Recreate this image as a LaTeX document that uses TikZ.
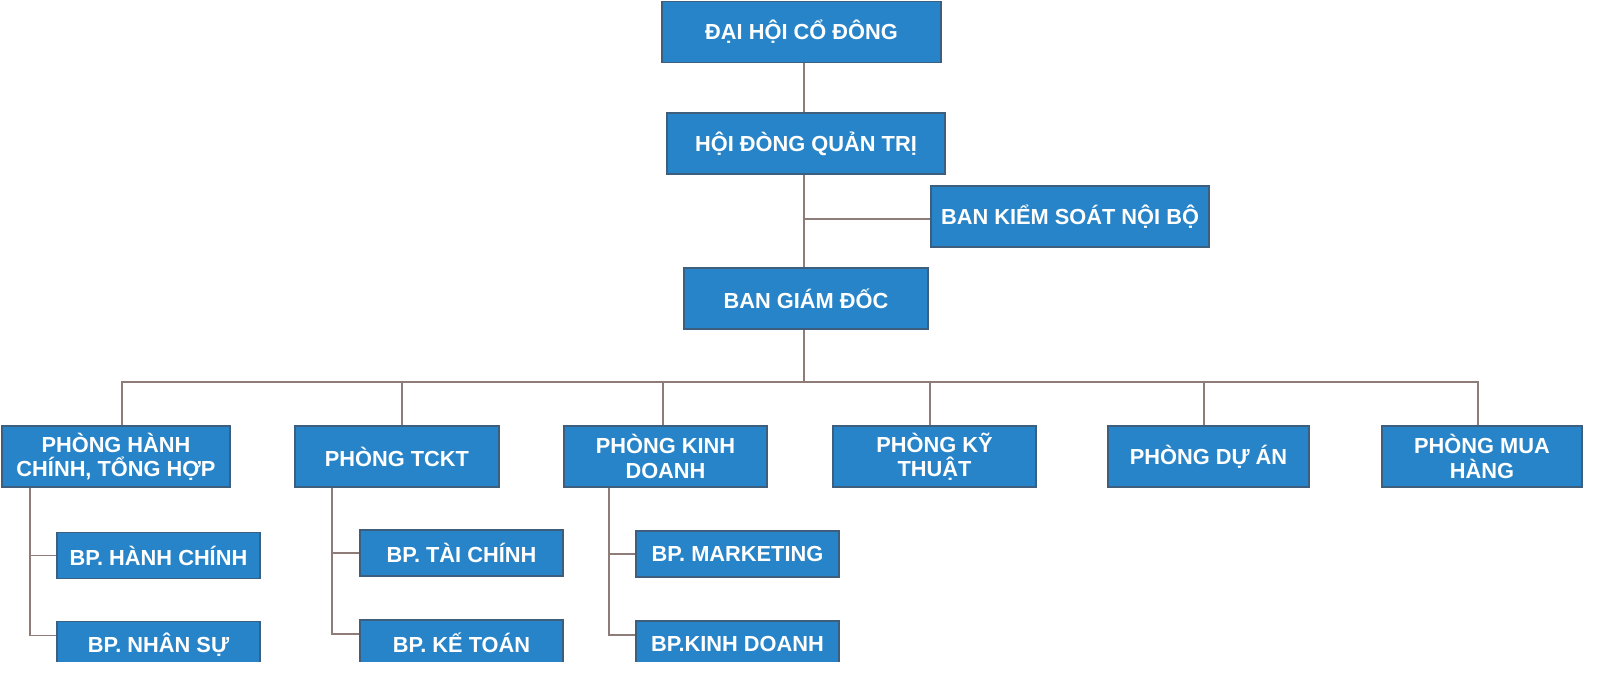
\documentclass[tikz,border=0pt]{standalone}
\usepackage{fontspec}
\setmainfont{Liberation Sans}
\definecolor{boxblue}{HTML}{2884C8}
\definecolor{boxedge}{HTML}{3E5E7E}
\definecolor{linec}{HTML}{8E7C79}
\tikzset{
  box/.style={draw=boxedge, line width=0.6pt, fill=boxblue, text=white,
    font=\fontsize{10.9}{12.2}\selectfont\bfseries, align=center, inner sep=0pt},
  topbox/.style={box, minimum height=30.5pt},
  rowbox/.style={box, minimum height=30.5pt},
  subbox/.style={box, minimum width=101.5pt, minimum height=23pt},
  conn/.style={draw=linec, line width=0.8pt}
}
\begin{document}
\begin{tikzpicture}[x=0.5pt,y=-0.5pt]
\useasboundingbox[fill=white] (0,0) rectangle (1600,686);
\begin{scope}
\clip (0,-10) rectangle (1600,661);
% top levels
\node[topbox, minimum width=139.5pt] (dh) at (801.5,32) {ĐẠI HỘI CỔ ĐÔNG};
\node[topbox, minimum width=139pt] (hd) at (806,143.5) {HỘI ĐÒNG QUẢN TRỊ};
\node[topbox, minimum width=139pt] (bks) at (1070,216.5) {BAN KIỂM SOÁT NỘI BỘ};
\node[topbox, minimum width=122pt] (bgd) at (806,298.5) {BAN GIÁM ĐỐC};
% departments
\node[rowbox, minimum width=114pt] (phc) at (116,456.5) {PHÒNG HÀNH\\CHÍNH, TỔNG HỢP};
\node[rowbox, minimum width=102pt] (ptc) at (397,456.5) {PHÒNG TCKT};
\node[rowbox, minimum width=101.5pt] (pkd) at (665.5,456.5) {PHÒNG KINH\\DOANH};
\node[rowbox, minimum width=101.5pt] (pkt) at (934.5,456.5) {PHÒNG KỸ\\THUẬT};
\node[rowbox, minimum width=100.5pt] (pda) at (1208.5,456.5) {PHÒNG DỰ ÁN};
\node[rowbox, minimum width=100pt] (pmh) at (1482,456.5) {PHÒNG MUA\\HÀNG};
% sub units
\node[subbox] (bphc) at (158.5,555.5) {BP. HÀNH CHÍNH};
\node[subbox] (bpns) at (158.5,644.5) {BP. NHÂN SỰ};
\node[subbox] (bptc) at (461.5,553) {BP. TÀI CHÍNH};
\node[subbox] (bpkt) at (461.5,643) {BP. KẾ TOÁN};
\node[subbox] (bpmk) at (737.5,554) {BP. MARKETING};
\node[subbox] (bpkd) at (737.5,644) {BP.KINH DOANH};
% helper coordinates
\coordinate (tx) at (804,0);
\coordinate (bus) at (804,382);
\coordinate (hcv) at (30,0);
\coordinate (tcv) at (332,0);
\coordinate (kdv) at (609,0);
% trunk
\draw[conn] (dh.south -| tx) -- (hd.north -| tx);
\draw[conn] (hd.south -| tx) -- (bgd.north -| tx);
\draw[conn] ([yshift=-1.25pt]bks.west -| tx) -- ([yshift=-1.25pt]bks.west);
\draw[conn] (bgd.south -| tx) -- (bus);
% bus and drops
\draw[conn] ([xshift=3pt]phc.north) |- (bus);
\draw[conn] ([xshift=2.5pt]ptc.north) |- (bus);
\draw[conn] ([xshift=-1.25pt]pkd.north) |- (bus);
\draw[conn] ([xshift=-2.25pt]pkt.north) |- (bus);
\draw[conn] ([xshift=-2.25pt]pda.north) |- (bus);
\draw[conn] ([xshift=-2pt]pmh.north) |- (bus);
% sub-unit connectors
\draw[conn] (phc.south -| hcv) |- (bphc.west);
\draw[conn] (phc.south -| hcv) |- ([yshift=4.5pt]bpns.west);
\draw[conn] (ptc.south -| tcv) |- (bptc.west);
\draw[conn] (ptc.south -| tcv) |- ([yshift=4.5pt]bpkt.west);
\draw[conn] (pkd.south -| kdv) |- (bpmk.west);
\draw[conn] (pkd.south -| kdv) |- ([yshift=4.5pt]bpkd.west);
\end{scope}
\end{tikzpicture}
\end{document}
